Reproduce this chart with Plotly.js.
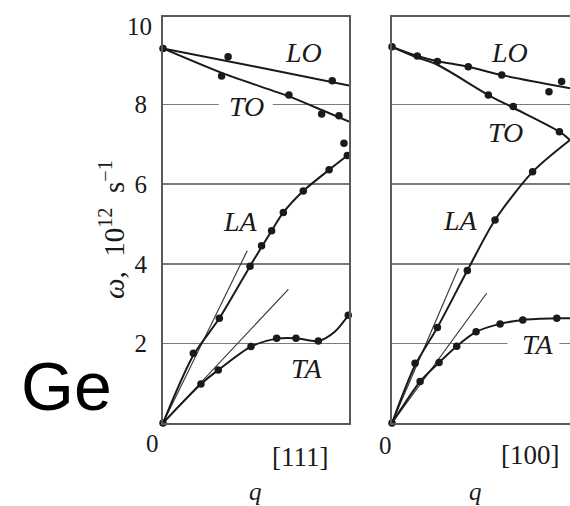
<!DOCTYPE html>
<html>
<head>
<meta charset="utf-8">
<script src="https://cdn.plot.ly/plotly-3.0.1.min.js"></script>
<style>html,body{margin:0;padding:0;background:#fff;}#chart{width:570px;height:506px;}</style>
</head>
<body>
<div id="chart"></div>
<script>
// ---------- [111] panel ----------
const q111_LO_line = [0, 0.5, 1.0];
const w111_LO_line = [9.41, 8.95, 8.48];
const q111_LO_pts  = [0, 0.35, 0.91];
const w111_LO_pts  = [9.41, 9.20, 8.60];

const q111_TO_line = [0, 0.33, 0.68, 0.86, 1.0];
const w111_TO_line = [9.41, 8.77, 8.20, 7.85, 7.57];
const q111_TO_pts  = [0.315, 0.677, 0.853, 0.946];
const w111_TO_pts  = [8.72, 8.24, 7.76, 7.72];

const q111_LA_line = [0, 0.163, 0.303, 0.468, 0.53, 0.584, 0.647, 0.754, 0.893, 1.0];
const w111_LA_line = [0, 1.70, 2.63, 3.94, 4.42, 4.83, 5.29, 5.83, 6.36, 6.75];
const q111_LA_pts  = [0, 0.163, 0.303, 0.468, 0.53, 0.584, 0.647, 0.754, 0.893, 0.991, 0.973];
const w111_LA_pts  = [0, 1.75, 2.63, 3.94, 4.45, 4.83, 5.29, 5.83, 6.36, 6.72, 7.03];

const q111_TA_line = [0, 0.204, 0.297, 0.473, 0.611, 0.715, 0.835, 0.925, 1.0];
const w111_TA_line = [0, 0.98, 1.33, 1.92, 2.12, 2.13, 2.06, 2.30, 2.73];
const q111_TA_pts  = [0.204, 0.297, 0.473, 0.611, 0.715, 0.835, 0.996];
const w111_TA_pts  = [0.98, 1.33, 1.92, 2.13, 2.13, 2.06, 2.71];

const q111_LA_tan = [0, 0.453];
const w111_LA_tan = [0, 4.33];
const q111_TA_tan = [0, 0.674];
const w111_TA_tan = [0, 3.36];

// ---------- [100] panel ----------
const q100_LO_line = [0, 0.136, 0.244, 0.41, 0.59, 0.957];
const w100_LO_line = [9.45, 9.22, 9.09, 8.95, 8.74, 8.41];
const q100_LO_pts  = [0, 0.136, 0.244, 0.41, 0.59, 0.844, 0.912];
const w100_LO_pts  = [9.45, 9.22, 9.08, 8.95, 8.74, 8.32, 8.58];

const q100_TO_line = [0, 0.136, 0.244, 0.518, 0.652, 0.90, 0.957];
const w100_TO_line = [9.45, 9.18, 9.00, 8.24, 7.92, 7.32, 7.11];
const q100_TO_pts  = [0.518, 0.652, 0.90];
const w100_TO_pts  = [8.24, 7.95, 7.32];

const q100_LA_line = [0, 0.124, 0.244, 0.405, 0.554, 0.756, 0.957];
const w100_LA_line = [0, 1.45, 2.40, 3.83, 5.10, 6.31, 7.11];
const q100_LA_pts  = [0, 0.124, 0.244, 0.405, 0.554, 0.756];
const w100_LA_pts  = [0, 1.50, 2.40, 3.83, 5.10, 6.31];

const q100_TA_line = [0, 0.151, 0.253, 0.348, 0.452, 0.581, 0.703, 0.886, 0.957];
const w100_TA_line = [0, 1.04, 1.52, 1.93, 2.29, 2.49, 2.59, 2.63, 2.63];
const q100_TA_pts  = [0.151, 0.253, 0.348, 0.452, 0.581, 0.703, 0.886];
const w100_TA_pts  = [1.04, 1.52, 1.93, 2.29, 2.49, 2.59, 2.63];

const q100_LA_tan = [0, 0.357];
const w100_LA_tan = [0, 3.89];
const q100_TA_tan = [0, 0.509];
const w100_TA_tan = [0, 3.26];

const yGridVals = [2, 4, 6, 8];
const yGridText = ['2', '4', '6', '8'];
const yTopVal = 10;
const yTopText = '10';

// ---------- styling ----------
const SERIF = '"Liberation Serif", "DejaVu Serif", serif';
const INK = '#1a1a1a';

function curve(x, y, xa, ya, w) {
  return {x: x, y: y, xaxis: xa, yaxis: ya, mode: 'lines', type: 'scatter',
    line: {color: INK, width: w || 2, shape: 'spline', smoothing: 0.8},
    hoverinfo: 'skip', showlegend: false, cliponaxis: false};
}
function straight(x, y, xa, ya) {
  return {x: x, y: y, xaxis: xa, yaxis: ya, mode: 'lines', type: 'scatter',
    line: {color: '#333', width: 1.1}, hoverinfo: 'skip', showlegend: false, cliponaxis: false};
}
function pts(x, y, xa, ya) {
  return {x: x, y: y, xaxis: xa, yaxis: ya, mode: 'markers', type: 'scatter',
    marker: {color: INK, size: 7.5}, hoverinfo: 'skip', showlegend: false, cliponaxis: false};
}

const data = [
  straight(q111_LA_tan, w111_LA_tan, 'x', 'y'),
  straight(q111_TA_tan, w111_TA_tan, 'x', 'y'),
  curve(q111_LO_line, w111_LO_line, 'x', 'y'),
  curve(q111_TO_line, w111_TO_line, 'x', 'y'),
  curve(q111_LA_line, w111_LA_line, 'x', 'y'),
  curve(q111_TA_line, w111_TA_line, 'x', 'y'),
  pts(q111_LO_pts, w111_LO_pts, 'x', 'y'),
  pts(q111_TO_pts, w111_TO_pts, 'x', 'y'),
  pts(q111_LA_pts, w111_LA_pts, 'x', 'y'),
  pts(q111_TA_pts, w111_TA_pts, 'x', 'y'),

  straight(q100_LA_tan, w100_LA_tan, 'x2', 'y2'),
  straight(q100_TA_tan, w100_TA_tan, 'x2', 'y2'),
  curve(q100_LO_line, w100_LO_line, 'x2', 'y2'),
  curve(q100_TO_line, w100_TO_line, 'x2', 'y2'),
  curve(q100_LA_line, w100_LA_line, 'x2', 'y2'),
  curve(q100_TA_line, w100_TA_line, 'x2', 'y2'),
  pts(q100_LO_pts, w100_LO_pts, 'x2', 'y2'),
  pts(q100_TO_pts, w100_TO_pts, 'x2', 'y2'),
  pts(q100_LA_pts, w100_LA_pts, 'x2', 'y2'),
  pts(q100_TA_pts, w100_TA_pts, 'x2', 'y2')
];

const W = 570, H = 506;
const yDom = [1 - 423 / H, 1 - 17 / H];
const yRange = [0, 10.2];
const FRAME = '#5a5a5a', GRID = '#7a7a7a';

const baseX = {showgrid: false, zeroline: false, showticklabels: false, ticks: '',
  showline: true, linecolor: FRAME, linewidth: 2, mirror: true, fixedrange: true};
const baseY = {range: yRange, domain: yDom, showgrid: true, gridcolor: GRID, gridwidth: 1.6,
  tickvals: yGridVals, zeroline: false, ticks: '', showline: true, linecolor: FRAME,
  linewidth: 2, fixedrange: true};

function lbl(text, x, y, xref, yref, size, italic) {
  return {text: italic ? '<i>' + text + '</i>' : text, x: x, y: y, xref: xref, yref: yref,
    showarrow: false, xanchor: 'center', yanchor: 'middle',
    font: {family: SERIF, size: size, color: INK}};
}

const layout = {
  width: W, height: H,
  margin: {l: 0, r: 0, t: 0, b: 0, pad: 0},
  paper_bgcolor: '#ffffff', plot_bgcolor: 'rgba(0,0,0,0)',
  showlegend: false,
  xaxis: Object.assign({}, baseX, {domain: [163 / W, 349 / W], range: [0, 1], anchor: 'y'}),
  xaxis2: Object.assign({}, baseX, {domain: [392 / W, 1], range: [0, 178 / 186], anchor: 'y2'}),
  yaxis: Object.assign({}, baseY, {anchor: 'x', mirror: true, ticktext: yGridText,
    showticklabels: true, ticklabelstandoff: 9,
    tickfont: {family: SERIF, size: 25, color: INK}}),
  yaxis2: Object.assign({}, baseY, {anchor: 'x2', mirror: false, showticklabels: false}),
  shapes: [
    {type: 'rect', layer: 'between', xref: 'x', yref: 'y', x0: 0.30, x1: 0.59, y0: 7.85, y1: 8.15,
     fillcolor: '#ffffff', line: {width: 0}},
    {type: 'rect', layer: 'between', xref: 'x2', yref: 'y2', x0: 0.62, x1: 0.90, y0: 1.85, y1: 2.15,
     fillcolor: '#ffffff', line: {width: 0}}
  ],
  annotations: [
    lbl('LO', 0.753, 9.32, 'x', 'y', 28, true),
    lbl('TO', 0.45, 7.95, 'x', 'y', 28, true),
    lbl('LA', 0.414, 5.05, 'x', 'y', 28, true),
    lbl('TA', 0.774, 1.38, 'x', 'y', 28, true),
    lbl('LO', 0.634, 9.32, 'x2', 'y2', 28, true),
    lbl('TO', 0.61, 7.31, 'x2', 'y2', 28, true),
    lbl('LA', 0.366, 5.10, 'x2', 'y2', 28, true),
    lbl('TA', 0.78, 1.98, 'x2', 'y2', 28, true),
    Object.assign(lbl(yTopText, 0, yTopVal, 'paper', 'y', 25, false),
      {x: 163 / W, xanchor: 'right', xshift: -9, yshift: -2}),
    lbl('[111]', 300 / W, 1 - 457 / H, 'paper', 'paper', 27, false),
    lbl('[100]', 530 / W, 1 - 455 / H, 'paper', 'paper', 27, false),
    lbl('q', 255 / W, 1 - 491 / H, 'paper', 'paper', 25, true),
    lbl('q', 475 / W, 1 - 491 / H, 'paper', 'paper', 25, true),
    lbl('0', 152 / W, 1 - 443 / H, 'paper', 'paper', 25, false),
    lbl('0', 385 / W, 1 - 445 / H, 'paper', 'paper', 25, false),
    Object.assign(lbl('<i>ω</i>,  10<sup>12</sup>  s<sup>−1</sup>', 112 / W, 1 - 230 / H, 'paper', 'paper', 29, false), {textangle: -90}),
    {text: 'Ge', x: 66 / W, y: 1 - 386 / H, xref: 'paper', yref: 'paper', showarrow: false,
     xanchor: 'center', yanchor: 'middle',
     font: {family: '"Liberation Sans", Arial, sans-serif', size: 68, color: '#000'}}
  ]
};

Plotly.newPlot('chart', data, layout, {staticPlot: true, displayModeBar: false});
</script>
</body>
</html>
